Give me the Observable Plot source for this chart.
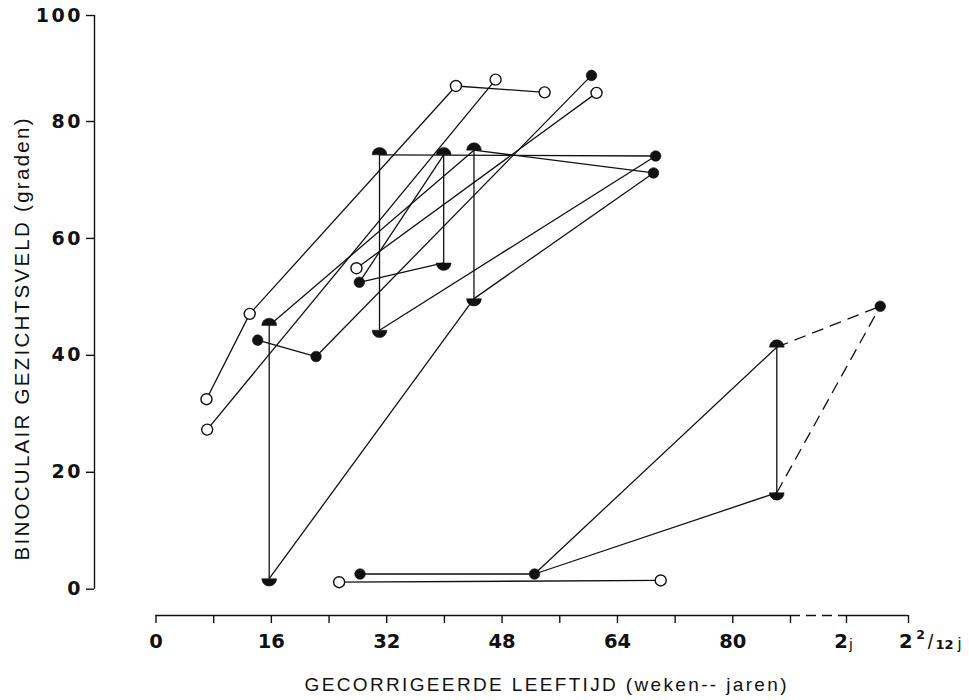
<!DOCTYPE html>
<html>
<head>
<meta charset="utf-8">
<script src="https://cdn.jsdelivr.net/npm/d3@7"></script>
<script src="https://cdn.jsdelivr.net/npm/@observablehq/plot@0.6"></script>
<style>
  body { margin: 0; background: #fff; }
  #chart svg { display: block; }
</style>
</head>
<body>
<div id="chart"></div>
<script>
// Measurement points: corrected age (weeks) and binocular visual field (degrees).
// kind: "open" = open circle, "filled" = filled circle,
//       "upper" = upper half disc, "lower" = lower half disc
const pointId = ["O1","O2","O3","O4","O5","O6","O7","O8","O9","O10",
                 "F1","F2","F3","F4","F5","F6","F7","F8","F9",
                 "D1","D2","D3","D4","D5",
                 "B1","B2","B3","B4","B5"];
const ageWeeks = [7.0, 7.1, 13.0, 27.8, 41.6, 47.1, 53.9, 61.1, 25.4, 70.0,
                  14.1, 22.2, 28.2, 60.4, 69.3, 69.0, 28.3, 52.5, 108.9,
                  15.7, 31.0, 39.9, 44.1, 86.1,
                  15.7, 31.0, 39.9, 44.1, 86.1];
const fieldDeg = [32.5, 27.3, 47.1, 54.9, 86.7, 87.9, 85.5, 85.4, 1.2, 1.5,
                  42.6, 39.8, 52.5, 88.7, 74.1, 71.2, 2.6, 2.6, 48.4,
                  45.1, 74.3, 74.3, 75.1, 41.4,
                  1.8, 44.3, 55.8, 49.7, 16.5];
const kind = ["open","open","open","open","open","open","open","open","open","open",
              "filled","filled","filled","filled","filled","filled","filled","filled","filled",
              "upper","upper","upper","upper","upper",
              "lower","lower","lower","lower","lower"];

// Connections between successive measurements of the same child
const solidLinks = [["O1","O3"],["O3","O5"],["O5","O7"],["O2","O6"],["O4","O8"],["O9","O10"],
                    ["F1","F2"],["F2","F4"],
                    ["F3","D3"],["F3","B3"],["D3","B3"],
                    ["D1","B1"],["D1","D4"],["B1","B4"],["D4","B4"],["D4","F6"],["B4","F6"],
                    ["D2","B2"],["D2","F5"],["B2","F5"],
                    ["F7","F8"],["F8","D5"],["F8","B5"],["D5","B5"]];
const dashedLinks = [["D5","F9"],["B5","F9"]];

// Axes
const yTicks = [0, 20, 40, 60, 80, 100];
const xTicks = [0, 8, 16, 24, 32, 40, 48, 56, 64, 72, 80, 88, 104, 113];
const xWeekLabels = [0, 16, 32, 48, 64, 80];
const xYear2 = 104;        // 2 jaar
const xYear2m2 = 113;      // 2 2/12 jaar
const xAxisSolid = [[0, 88], [104, 113]];
const xAxisDashed = [[88, 104]];
const xTitle = "GECORRIGEERDE LEEFTIJD (weken-- jaren)";
const yTitle = "BINOCULAIR GEZICHTSVELD (graden)";

const points = pointId.map((id, i) => ({id, age: ageWeeks[i], field: fieldDeg[i], kind: kind[i]}));
const byId = new Map(points.map(p => [p.id, p]));
const toSeg = ([a, b]) => ({x1: byId.get(a).age, y1: byId.get(a).field, x2: byId.get(b).age, y2: byId.get(b).field});

// half-disc symbols (flat side through the data point)
const upperHalf = {draw(ctx, size) {
  const r = Math.sqrt(size / Math.PI);
  ctx.moveTo(-r, 0); ctx.arc(0, 0, r, Math.PI, 2 * Math.PI); ctx.closePath();
}};
const lowerHalf = {draw(ctx, size) {
  const r = Math.sqrt(size / Math.PI);
  ctx.moveTo(r, 0); ctx.arc(0, 0, r, 0, Math.PI); ctx.closePath();
}};

const W = 969, H = 700;
const mLeft = 94, mBottom = 85;
const xRange = [155.5, 790, 846, 908];
const yRange = [588.7, 121, 15];
const axisDrop = (H - mBottom) - yRange[0];   // x axis sits below the zero level
const yAxisShift = mLeft - xRange[0];          // y axis sits left of week 0

const ink = "#111";
const numFont = "DejaVu Sans";
const txtFont = "Liberation Sans";

const chart = Plot.plot({
  width: W, height: H,
  marginTop: 15, marginRight: W - xRange[3], marginBottom: mBottom, marginLeft: mLeft,
  style: {background: "#fff", color: ink, overflow: "visible"},
  x: {type: "linear", domain: [0, 88, 104, 113], range: xRange, axis: null},
  y: {type: "linear", domain: [0, 80, 100], range: yRange, axis: null},
  marks: [
    // y axis
    Plot.ruleX([0], {y1: 0, y2: 100, dx: yAxisShift, stroke: ink, strokeWidth: 1.4}),
    Plot.axisY(yTicks, {anchor: "left", tickSize: 8, tickFormat: () => "", label: null, stroke: ink, strokeWidth: 1.4}),
    Plot.text(yTicks, {y: d => d, text: d => String(d), frameAnchor: "left", dx: -11.5, textAnchor: "end",
      fontFamily: numFont, fontWeight: "bold", fontSize: 19, fill: ink}),
    Plot.text([yTitle], {frameAnchor: "left", rotate: -90, textAnchor: "middle", dx: -72, dy: 24,
      fontFamily: txtFont, fontSize: 20.5, fill: ink}),

    // x axis (broken after 88 weeks)
    Plot.ruleY(xAxisSolid, {x1: d => d[0], x2: d => d[1], y: 0, dy: axisDrop, stroke: ink, strokeWidth: 1.4}),
    Plot.ruleY(xAxisDashed, {x1: d => d[0], x2: d => d[1], y: 0, dy: axisDrop, stroke: ink, strokeWidth: 1.4, strokeDasharray: "10,6"}),
    Plot.axisX(xTicks, {anchor: "bottom", tickSize: 8, tickFormat: () => "", label: null, stroke: ink, strokeWidth: 1.4}),
    Plot.text(xWeekLabels, {x: d => d, text: d => String(d), frameAnchor: "bottom", lineAnchor: "bottom", dy: 32.5,
      fontFamily: numFont, fontWeight: "bold", fontSize: 19.5, fill: ink}),
    Plot.text([xYear2], {x: d => d, text: () => "2", frameAnchor: "bottom", lineAnchor: "bottom", dy: 32.5, dx: -5.5,
      fontFamily: numFont, fontWeight: "bold", fontSize: 19.5, fill: ink}),
    Plot.text([xYear2], {x: d => d, text: () => "j", frameAnchor: "bottom", lineAnchor: "bottom", dy: 33, dx: 4.5,
      fontFamily: txtFont, fontSize: 15, fill: ink}),
    Plot.text([xYear2m2], {x: d => d, text: () => "2", frameAnchor: "bottom", lineAnchor: "bottom", dy: 32.5, dx: -2.6,
      fontFamily: numFont, fontWeight: "bold", fontSize: 19.5, fill: ink}),
    Plot.text([xYear2m2], {x: d => d, text: () => "2", frameAnchor: "bottom", lineAnchor: "bottom", dy: 23, dx: 12,
      fontFamily: numFont, fontWeight: "bold", fontSize: 12.5, fill: ink}),
    Plot.text([xYear2m2], {x: d => d, text: () => "/", frameAnchor: "bottom", lineAnchor: "bottom", dy: 33, dx: 22,
      fontFamily: txtFont, fontSize: 20, fill: ink}),
    Plot.text([xYear2m2], {x: d => d, text: () => "12", frameAnchor: "bottom", lineAnchor: "bottom", dy: 33, dx: 36,
      fontFamily: numFont, fontWeight: "bold", fontSize: 13, fill: ink}),
    Plot.text([xYear2m2], {x: d => d, text: () => "j", frameAnchor: "bottom", lineAnchor: "bottom", dy: 33, dx: 51,
      fontFamily: txtFont, fontSize: 16, fill: ink}),
    Plot.text([xTitle], {frameAnchor: "bottom", textAnchor: "middle", lineAnchor: "bottom", dx: 44, dy: 75,
      fontFamily: txtFont, fontSize: 19, fill: ink}),

    // connecting lines
    Plot.link(solidLinks.map(toSeg), {x1: "x1", y1: "y1", x2: "x2", y2: "y2", stroke: ink, strokeWidth: 1.3}),
    Plot.link(dashedLinks.map(toSeg), {x1: "x1", y1: "y1", x2: "x2", y2: "y2", stroke: ink, strokeWidth: 1.3, strokeDasharray: "12,7"}),

    // measurement symbols
    Plot.dot(points.filter(p => p.kind === "open"), {x: "age", y: "field", r: 5.5, fill: "#fff", stroke: ink, strokeWidth: 1.4}),
    Plot.dot(points.filter(p => p.kind === "filled"), {x: "age", y: "field", r: 5.3, fill: ink, stroke: ink, strokeWidth: 0.6}),
    Plot.dot(points.filter(p => p.kind === "upper"), {x: "age", y: "field", r: 7.4, symbol: upperHalf, fill: ink, stroke: ink, strokeWidth: 0.5}),
    Plot.dot(points.filter(p => p.kind === "lower"), {x: "age", y: "field", r: 7.4, symbol: lowerHalf, fill: ink, stroke: ink, strokeWidth: 0.5})
  ]
});

// spaced-out lettering of the axis titles and the value labels of the vertical axis
const svg = d3.select(chart);
svg.selectAll("text").each(function () {
  const t = this.textContent;
  if (t === yTitle) d3.select(this).attr("textLength", 442).attr("lengthAdjust", "spacing");
  else if (t === xTitle) d3.select(this).attr("textLength", 482).attr("lengthAdjust", "spacing");
  else if (this.parentNode && this.parentNode.getAttribute("text-anchor") === "end") d3.select(this).style("letter-spacing", "2.5px");
});

document.getElementById("chart").appendChild(chart);
</script>
</body>
</html>
